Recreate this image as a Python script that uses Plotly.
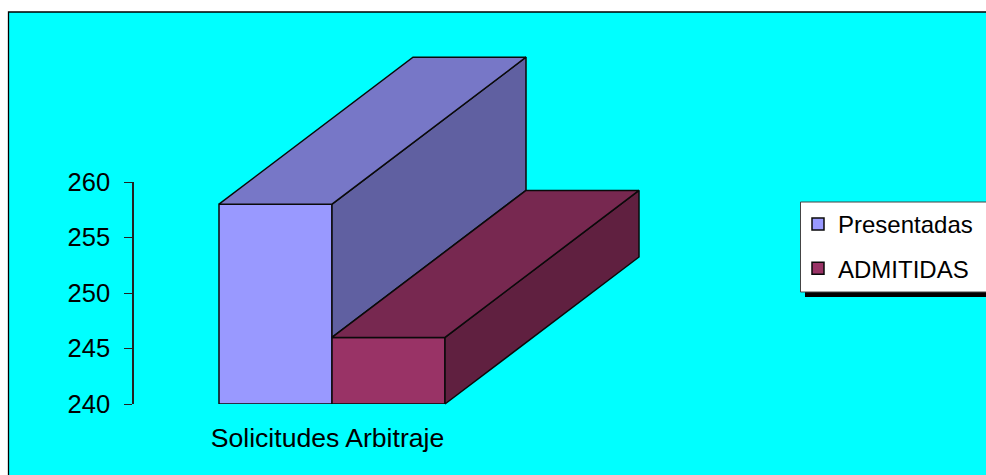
import plotly.graph_objects as go

# ---- data ----
categories = ["Solicitudes Arbitraje"]
series_names = ["Presentadas", "ADMITIDAS"]
presentadas = [258]
admitidas = [246]
y_ticks = [240, 245, 250, 255, 260]

# ---- styles / layout (pixels of the 986x475 page) ----
W, H = 986, 475
front_colors = [(153, 153, 255), (153, 51, 102)]
TOP_SHADE, SIDE_SHADE = 0.78, 0.63
PX_PER_BAR = 113.0
PX_PER_UNIT = 11.1
X0_PX = 332.0            # pixel of the category's centre
Y0_PX = 404.0            # pixel of value 240
BASE = y_ticks[0]
DEPTH_X = 194 / PX_PER_BAR
DEPTH_Y = 147 / PX_PER_UNIT
EDGE = "#0a0a0a"


def px_x(p):
    return (p - X0_PX) / PX_PER_BAR


def px_y(p):
    return BASE + (Y0_PX - p) / PX_PER_UNIT


def rgb(c, k=1.0):
    return "rgb(%d,%d,%d)" % tuple(round(v * k) for v in c)


series = [(series_names[0], presentadas[0], -0.5, front_colors[0], admitidas[0]),
          (series_names[1], admitidas[0], 0.5, front_colors[1], BASE)]

fig = go.Figure()

# front faces: real bars on the visible axis
for name, val, xc, col, _ in series:
    fig.add_trace(go.Bar(
        x=[xc], y=[val - BASE], base=[BASE], width=[1], name=name,
        legendgroup=name, xaxis="x", yaxis="y",
        marker=dict(color=rgb(col), line=dict(color=EDGE, width=1.5)),
        customdata=[categories[0]],
        hovertemplate="%{customdata}: %{y}<extra>" + name + "</extra>",
    ))

# top and side faces, projected from the same values;
# a side face is only visible above the neighbouring bar standing in front of it
for name, val, xc, col, floor in series:
    l, r = xc - 0.5, xc + 0.5
    top_x = [l, r, r + DEPTH_X, l + DEPTH_X, l]
    top_y = [val, val, val + DEPTH_Y, val + DEPTH_Y, val]
    side_x = [r, r + DEPTH_X, r + DEPTH_X, r, r]
    side_y = [floor, floor + DEPTH_Y, val + DEPTH_Y, val, floor]
    for fx, fy, k in ((side_x, side_y, SIDE_SHADE), (top_x, top_y, TOP_SHADE)):
        fig.add_trace(go.Scatter(
            x=fx, y=fy, mode="lines", fill="toself", fillcolor=rgb(col, k),
            line=dict(color=EDGE, width=1.5), showlegend=False,
            hoverinfo="skip", xaxis="x", yaxis="y2",
        ))

fig.update_layout(
    width=W, height=H,
    margin=dict(l=0, r=0, t=0, b=0, pad=0, autoexpand=False),
    paper_bgcolor="white", plot_bgcolor="rgba(0,0,0,0)",
    font=dict(family="Liberation Sans, Arial, sans-serif", color="black", size=24),
    barmode="overlay",
    xaxis=dict(
        domain=[0, 1], range=[px_x(0), px_x(W)], anchor="y",
        tickmode="array", tickvals=[-0.04], ticktext=categories,
        showline=False, showgrid=False, zeroline=False,
        ticks="outside", ticklen=10, tickcolor="rgba(0,0,0,0)",
        tickfont=dict(size=26.6),
    ),
    yaxis=dict(
        domain=[(H - 404) / H, (H - 182) / H], range=[240, 260],
        anchor="free", position=133 / W,
        tickmode="array", tickvals=y_ticks,
        showline=True, linecolor="#222222", linewidth=1.5,
        ticks="outside", ticklen=8, tickcolor="#222222", tickwidth=1,
        ticklabelstandoff=9,
        showgrid=False, zeroline=False, tickfont=dict(size=25.5),
    ),
    yaxis2=dict(
        domain=[0, 1], range=[px_y(H), px_y(0)], anchor="x",
        visible=False, showgrid=False, zeroline=False,
    ),
    showlegend=True,
    legend=dict(
        x=798 / W, xanchor="left", y=(H - 202) / H, yanchor="top",
        bgcolor="rgba(0,0,0,0)", borderwidth=0,
        font=dict(size=24), tracegroupgap=10, traceorder="grouped",
    ),
    shapes=[
        dict(type="rect", xref="paper", yref="paper", layer="below",
             x0=8.5 / W, x1=1.01, y0=-0.02, y1=(H - 12) / H,
             fillcolor="#00FFFF", line=dict(color="black", width=1.3)),
        dict(type="rect", xref="paper", yref="paper", layer="below",
             x0=805 / W, x1=1.01, y0=(H - 297) / H, y1=(H - 207) / H,
             fillcolor="black", line=dict(width=0)),
        dict(type="rect", xref="paper", yref="paper", layer="below",
             x0=800.5 / W, x1=1.01, y0=(H - 292) / H, y1=(H - 202) / H,
             fillcolor="white", line=dict(color="#444444", width=1)),
    ],
)

fig.write_html(
    "out.html",
    config=dict(displayModeBar=False),
    post_script="document.body.style.margin='0';document.body.style.overflow='hidden';",
)
